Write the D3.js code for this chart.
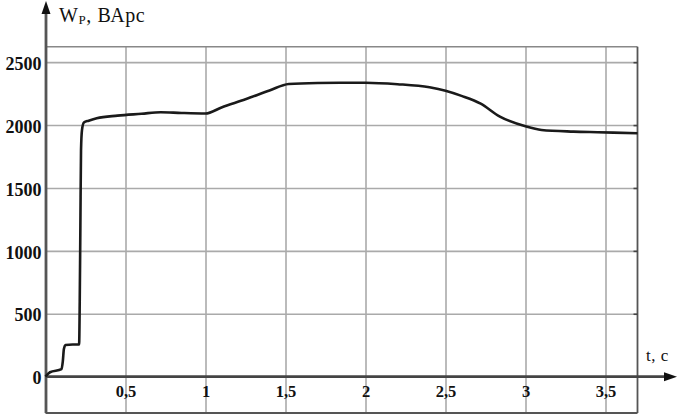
<!DOCTYPE html>
<html><head><meta charset="utf-8">
<script src="https://cdn.jsdelivr.net/npm/d3@7"></script>
<style>
html,body{margin:0;padding:0;background:#fff;}
svg{display:block;}
</style></head>
<body>
<svg id="chart" width="678" height="417"></svg>
<script>
// Data
const timeS = [0, 0.028, 0.10, 0.108, 0.115, 0.125, 0.17, 0.21, 0.214, 0.218, 0.222, 0.228, 0.24, 0.27, 0.32, 0.45, 0.6, 0.72, 0.85, 1.0, 1.1, 1.25, 1.4, 1.52, 1.7, 1.9, 2.0, 2.2, 2.4, 2.5, 2.6, 2.72, 2.84, 3.0, 3.1, 3.3, 3.45, 3.7];
const wp    = [0, 35, 60, 120, 220, 252, 255, 255, 600, 1200, 1800, 1960, 2020, 2035, 2054, 2075, 2090, 2102, 2096, 2092, 2140, 2205, 2275, 2327, 2335, 2337, 2337, 2325, 2300, 2273, 2232, 2170, 2067, 1990, 1961, 1948, 1943, 1935];
const yTicks = [0, 500, 1000, 1500, 2000, 2500];
const xTicks = [0.5, 1, 1.5, 2, 2.5, 3, 3.5];
const yLabel = ["W", "Р", ", ВАрс"];
const xLabel = "t, c";

(function () {
const svg = d3.select("#chart");
const pL = 45.5, pR = 637.5, pT = 46.7, pB = 413;
const x = d3.scaleLinear().domain([0, 3.7]).range([pL, pR]);
const y = d3.scaleLinear().domain([-289, 2623]).range([pB, pT]);
const fmt = d => String(d).replace(".", ",");
const serif = "'Liberation Serif', 'DejaVu Serif', serif";

// horizontal grid
const gy = svg.append("g").attr("transform", `translate(${pL},0)`)
  .call(d3.axisLeft(y).tickValues(yTicks.filter(d => d !== 0)).tickSize(-(pR - pL)).tickFormat(""));
gy.select(".domain").remove();
gy.selectAll(".tick line").attr("stroke", "#aaa").attr("stroke-width", 1.6);

// vertical grid
const gx = svg.append("g").attr("transform", `translate(0,${pB})`)
  .call(d3.axisBottom(x).tickValues(xTicks).tickSize(-(pB - pT)).tickFormat(""));
gx.select(".domain").remove();
gx.selectAll(".tick line").attr("stroke", "#aaa").attr("stroke-width", 1.6);

// frame: top, right, bottom
svg.append("line").attr("x1", pL).attr("x2", pR).attr("y1", pT).attr("y2", pT)
  .attr("stroke", "#888").attr("stroke-width", 1.6);
svg.append("line").attr("x1", pR).attr("x2", pR).attr("y1", pT).attr("y2", pB)
  .attr("stroke", "#555").attr("stroke-width", 1.8);
svg.append("line").attr("x1", pL).attr("x2", pR).attr("y1", pB).attr("y2", pB)
  .attr("stroke", "#555").attr("stroke-width", 1.8);

// small ticks on right border
const gr = svg.append("g").attr("transform", `translate(${pR},0)`)
  .call(d3.axisRight(y).tickValues(yTicks).tickSize(-4).tickFormat(""));
gr.select(".domain").remove();
gr.selectAll(".tick line").attr("stroke", "#444").attr("stroke-width", 1.6);

// y tick labels
const yl = svg.append("g").attr("transform", `translate(${pL},0)`)
  .call(d3.axisLeft(y).tickValues(yTicks).tickSize(0).tickPadding(4).tickFormat(d => d));
yl.select(".domain").remove();
yl.selectAll("text").attr("font-family", serif).attr("font-weight", "bold")
  .attr("font-size", 18).attr("fill", "#111").attr("dy", "0.4em");

// x tick labels
const xl = svg.append("g").attr("transform", `translate(0,${y(0)})`)
  .call(d3.axisBottom(x).tickValues(xTicks).tickSize(0).tickPadding(9).tickFormat(fmt));
xl.select(".domain").remove();
xl.selectAll("text").attr("font-family", serif).attr("font-weight", "bold")
  .attr("font-size", 16.5).attr("fill", "#111");

// x axis line with arrow
svg.append("line").attr("x1", pL).attr("x2", 666).attr("y1", y(0)).attr("y2", y(0))
  .attr("stroke", "#444").attr("stroke-width", 2.6);
svg.append("path").attr("d", `M677,${y(0)} L664,${y(0) - 4.5} L664,${y(0) + 4.5} Z`).attr("fill", "#111");

// y axis line with arrow
svg.append("line").attr("x1", 46).attr("x2", 46).attr("y1", pB).attr("y2", 12)
  .attr("stroke", "#555").attr("stroke-width", 2.8);
svg.append("path").attr("d", `M46,1 L41.5,14 L50.5,14 Z`).attr("fill", "#111");

// curve
const pts = timeS.map((t, i) => [t, wp[i]]);
svg.append("path").datum(pts)
  .attr("d", d3.line().x(d => x(d[0])).y(d => y(d[1])).curve(d3.curveMonotoneX))
  .attr("fill", "none").attr("stroke", "#1a1a1a").attr("stroke-width", 2.6)
  .attr("stroke-linejoin", "round");

// axis titles
const tt = svg.append("text").attr("x", 59).attr("y", 22).attr("font-family", serif)
  .attr("font-size", 20).attr("letter-spacing", 0.6).attr("fill", "#111");
tt.append("tspan").text(yLabel[0]);
tt.append("tspan").attr("font-size", 13).attr("dy", 2).text(yLabel[1]);
tt.append("tspan").attr("dy", -2).text(yLabel[2]);

svg.append("text").attr("x", 646).attr("y", 361).attr("font-family", serif)
  .attr("font-size", 17).attr("letter-spacing", 0.5).attr("fill", "#111").text(xLabel);
})();
</script>
</body></html>
